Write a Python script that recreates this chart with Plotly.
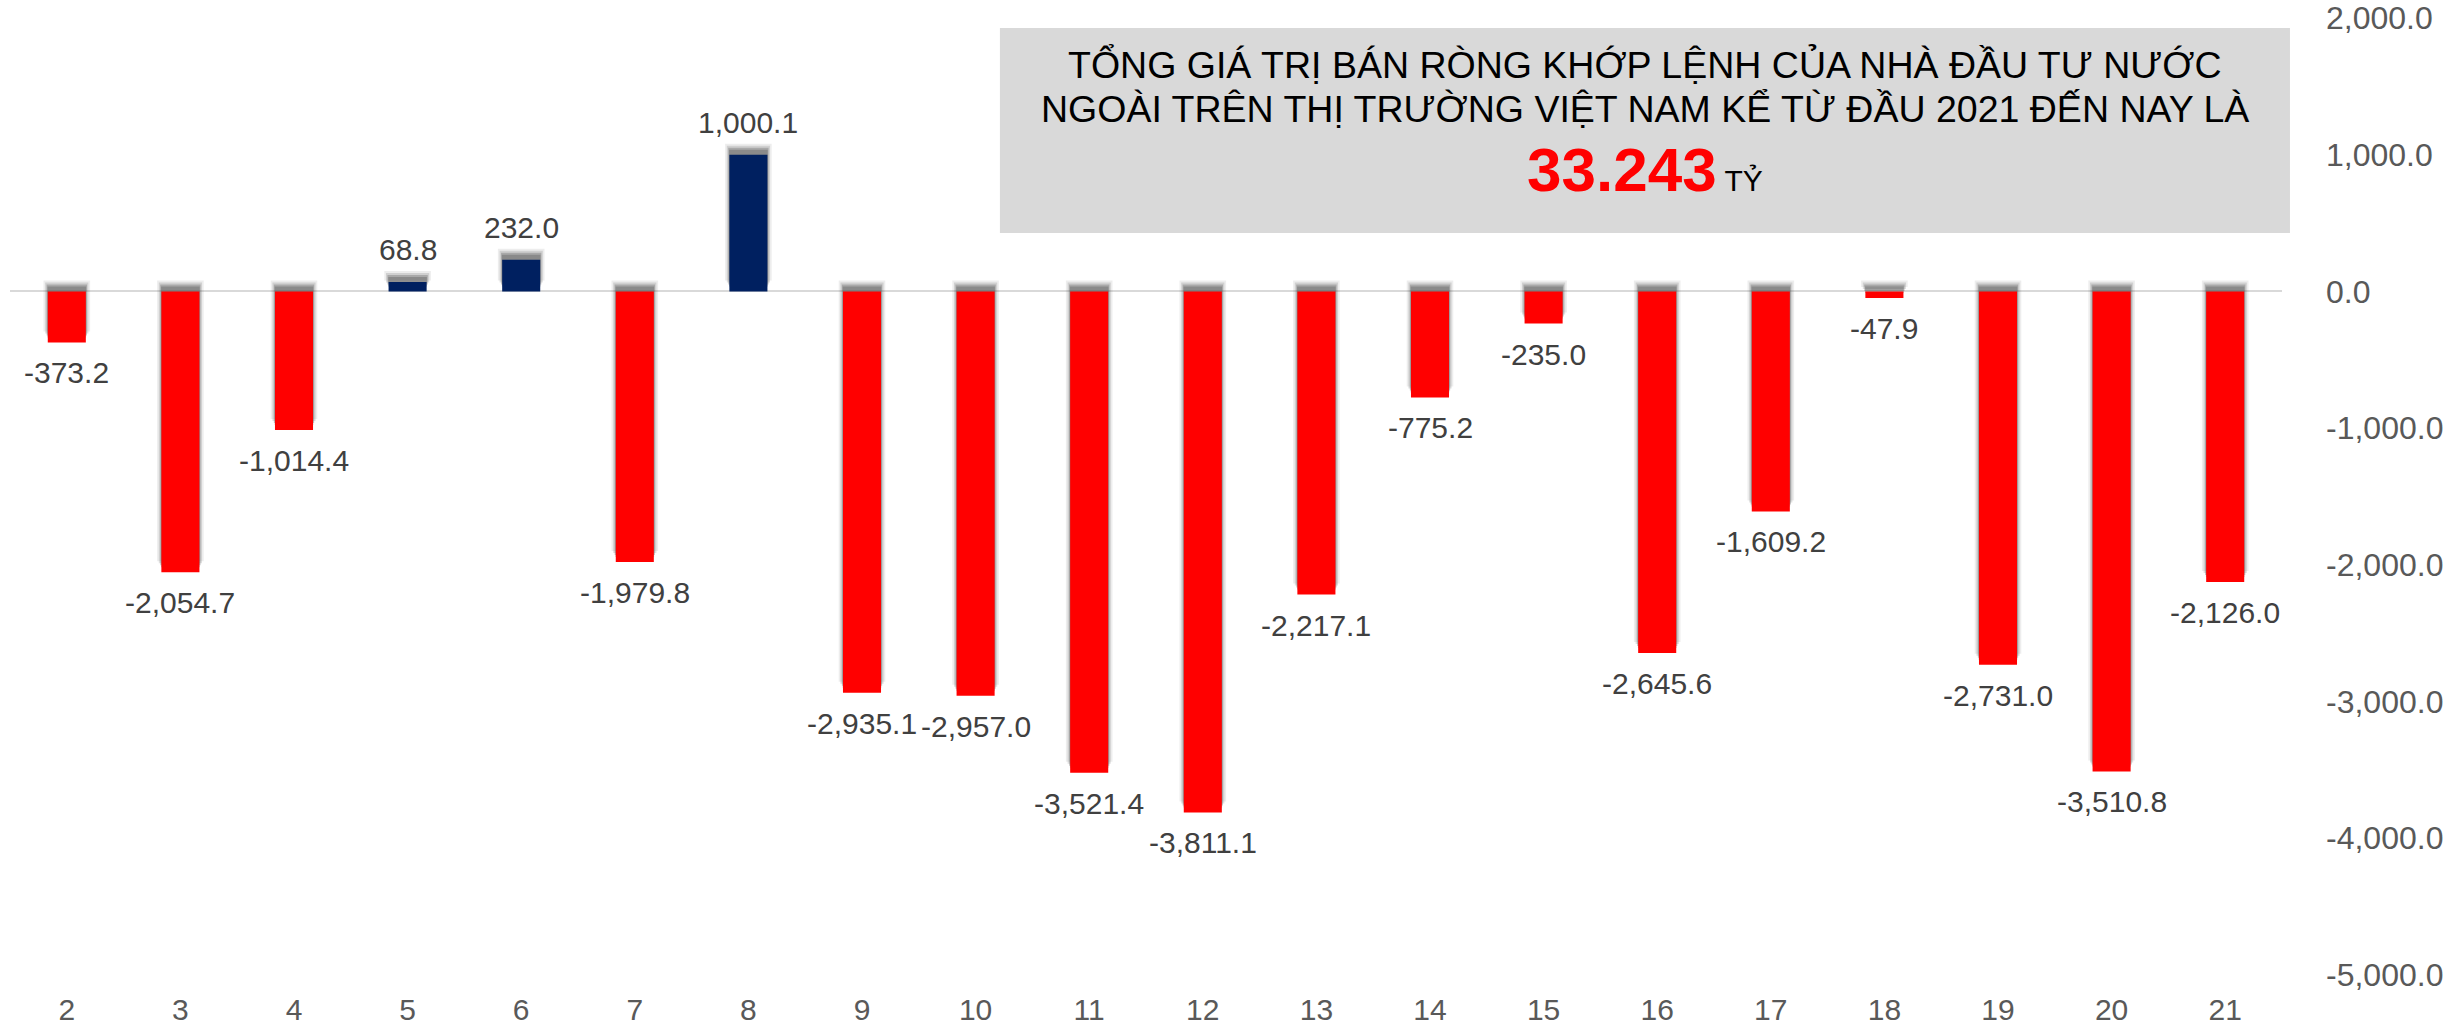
import plotly.graph_objects as go

categories = [str(i) for i in range(2, 22)]
values = [-373.2, -2054.7, -1014.4, 68.8, 232.0, -1979.8, 1000.1, -2935.1, -2957.0,
          -3521.4, -3811.1, -2217.1, -775.2, -235.0, -2645.6, -1609.2, -47.9,
          -2731.0, -3510.8, -2126.0]
y_ticks = [2000, 1000, 0, -1000, -2000, -3000, -4000, -5000]
title_line1 = "TỔNG GIÁ TRỊ BÁN RÒNG KHỚP LỆNH CỦA NHÀ ĐẦU TƯ NƯỚC"
title_line2 = "NGOÀI TRÊN THỊ TRƯỜNG VIỆT NAM KỂ TỪ ĐẦU 2021 ĐẾN NAY LÀ"
total_value = "33.243"
total_unit = "TỶ"

RED = "#FF0000"
NAVY = "#002060"
colors = [NAVY if v > 0 else RED for v in values]
labels = [f"{v:,.1f}" for v in values]

W = 1000 / 136.7  # data units per pixel (approx)
fig = go.Figure()

# soft shadow layers (offset upward)
shadow_layers = [(11, 0.41, 0.10), (9, 0.38, 0.18), (7, 0.355, 0.30), (5, 0.34, 0.35)]
for off_px, w, a in shadow_layers:
    off = off_px * W
    fig.add_trace(go.Bar(
        x=categories, y=values, base=[off] * len(values), width=w,
        marker=dict(color=f"rgba(80,80,80,{a})", line=dict(width=0)),
        hoverinfo="skip", showlegend=False,
    ))

fig.add_trace(go.Bar(
    x=categories, y=values, width=0.335,
    marker=dict(color=colors, line=dict(width=0)),
    showlegend=False,
))

for i, (v, t) in enumerate(zip(values, labels)):
    fig.add_annotation(
        x=i, y=v, text=t, showarrow=False, xanchor="center",
        yanchor="bottom" if v > 0 else "top",
        yshift=14 if v > 0 else -12,
        font=dict(family="Liberation Sans, Arial", size=30, color="#404040"),
    )

# plot area in page px: x 10..2282, y 18..975 (height 957)
fig.add_shape(type="rect", xref="paper", yref="paper",
              x0=0.4357, x1=1.0035, y0=0.7753, y1=0.9896,
              fillcolor="#D9D9D9", line=dict(width=0), layer="below")

for line_text, ypos in [(title_line1, 0.9519), (title_line2, 0.9049)]:
    fig.add_annotation(
        xref="paper", yref="paper", x=0.7196, y=ypos, showarrow=False,
        text=line_text, align="center",
        font=dict(family="Liberation Sans, Arial", size=37.5, color="#000000"),
        xanchor="center", yanchor="middle",
    )
fig.add_annotation(
    xref="paper", yref="paper", x=0.7196, y=0.842, showarrow=False,
    text=f"<b><span style='color:#FF0000;font-size:62px'>{total_value}</span></b> {total_unit}",
    font=dict(family="Liberation Sans, Arial", size=30, color="#000000"),
    xanchor="center", yanchor="middle",
)

fig.update_layout(
    width=2456, height=1027,
    margin=dict(l=10, r=174, t=18, b=52, autoexpand=False),
    paper_bgcolor="white", plot_bgcolor="white",
    barmode="overlay",
    xaxis=dict(
        type="category", range=[-0.5, len(categories) - 0.5], automargin=False,
        showgrid=False, showline=False, zeroline=False,
        ticks="", ticklabelstandoff=14,
        tickfont=dict(family="Liberation Sans, Arial", size=30, color="#595959"),
    ),
    yaxis=dict(
        side="right", range=[-5000, 2000], showgrid=False, showline=False,
        automargin=False,
        zeroline=True, zerolinecolor="#D9D9D9", zerolinewidth=2,
        tickvals=y_ticks, ticktext=[f"{v:,.1f}" for v in y_ticks],
        ticks="", ticklabelstandoff=43,
        tickfont=dict(family="Liberation Sans, Arial", size=32, color="#595959"),
    ),
)

fig.write_html(
    "out.html",
    config={"displayModeBar": False},
    post_script="document.body.style.margin='0';document.documentElement.style.overflow='hidden';",
)
